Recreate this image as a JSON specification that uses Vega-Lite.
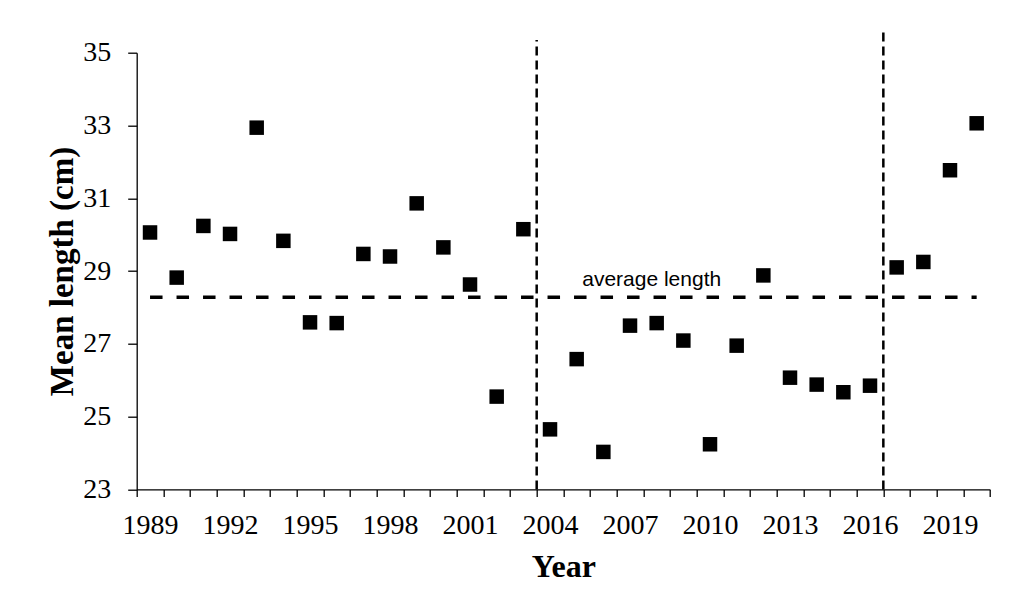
{
  "$schema": "https://vega.github.io/schema/vega-lite/v6.json",
  "autosize": "none",
  "width": 853.3,
  "height": 436.7,
  "padding": {"left": 136.7, "top": 52.7, "right": 40, "bottom": 118.6},
  "background": "white",
  "config": {
    "view": {"stroke": null},
    "axis": {
      "domainColor": "black",
      "tickColor": "black",
      "labelColor": "black",
      "titleColor": "black",
      "labelFont": "Liberation Serif",
      "titleFont": "Liberation Serif",
      "grid": false
    }
  },
  "layer": [
    {
      "data": {"values": [
        {"year": 1989, "length": 30.06},
        {"year": 1990, "length": 28.82},
        {"year": 1991, "length": 30.24},
        {"year": 1992, "length": 30.02},
        {"year": 1993, "length": 32.94},
        {"year": 1994, "length": 29.83},
        {"year": 1995, "length": 27.59},
        {"year": 1996, "length": 27.57},
        {"year": 1997, "length": 29.47},
        {"year": 1998, "length": 29.40},
        {"year": 1999, "length": 30.86},
        {"year": 2000, "length": 29.65},
        {"year": 2001, "length": 28.63},
        {"year": 2002, "length": 25.55},
        {"year": 2003, "length": 30.15},
        {"year": 2004, "length": 24.65},
        {"year": 2005, "length": 26.58},
        {"year": 2006, "length": 24.03},
        {"year": 2007, "length": 27.50},
        {"year": 2008, "length": 27.57},
        {"year": 2009, "length": 27.09},
        {"year": 2010, "length": 24.24},
        {"year": 2011, "length": 26.95},
        {"year": 2012, "length": 28.88},
        {"year": 2013, "length": 26.07},
        {"year": 2014, "length": 25.88},
        {"year": 2015, "length": 25.67},
        {"year": 2016, "length": 25.85},
        {"year": 2017, "length": 29.10},
        {"year": 2018, "length": 29.25},
        {"year": 2019, "length": 31.77},
        {"year": 2020, "length": 33.06}
      ]},
      "mark": {"type": "square", "filled": true, "color": "black", "opacity": 1, "size": 210},
      "encoding": {
        "x": {
          "field": "year", "type": "ordinal",
          "scale": {"paddingInner": 0, "paddingOuter": 0},
          "axis": {
            "title": "Year",
            "titleFontSize": 32,
            "titleFontWeight": "bold",
            "titleBaseline": "alphabetic",
            "titleY": 87.4,
            "labelFontSize": 28,
            "labelAngle": 0,
            "labelOverlap": false,
            "labelExpr": "(datum.value - 1989) % 3 === 0 ? datum.label : ''",
            "tickBand": "extent",
            "tickSize": 7,
            "labelPadding": 15,
            "domainWidth": 1.3,
            "tickWidth": 1.3
          }
        },
        "y": {
          "field": "length", "type": "quantitative",
          "scale": {"domain": [23, 35], "zero": false, "nice": false},
          "axis": {
            "title": "Mean length (cm)",
            "values": [23, 25, 27, 29, 31, 33, 35],
            "labelFontSize": 28,
            "titleFontSize": 33,
            "titleFontWeight": "bold",
            "titleAngle": -90,
            "titleBaseline": "alphabetic",
            "titleAlign": "center",
            "titleX": -64,
            "titleY": 218.3,
            "tickSize": 9,
            "labelPadding": 17,
            "domainWidth": 1.3,
            "tickWidth": 1.3
          }
        }
      }
    },
    {
      "data": {"values": [
        {"year": 1989, "avg": 28.28},
        {"year": 2020, "avg": 28.28}
      ]},
      "mark": {"type": "line", "color": "black", "strokeWidth": 3.6, "strokeDash": [12.5, 14]},
      "encoding": {
        "x": {"field": "year", "type": "ordinal"},
        "y": {"field": "avg", "type": "quantitative"}
      }
    },
    {
      "data": {"values": [
        {"year": 2004, "bottom": 23, "top": 35.35},
        {"year": 2017, "bottom": 23, "top": 35.57}
      ]},
      "mark": {"type": "rule", "color": "black", "strokeWidth": 2.5, "strokeDash": [9, 5]},
      "encoding": {
        "x": {"field": "year", "type": "ordinal", "bandPosition": 0},
        "y": {"field": "bottom", "type": "quantitative"},
        "y2": {"field": "top"}
      }
    },
    {
      "data": {"values": [
        {"year": 2008, "pos": 28.59, "label": "average length"}
      ]},
      "mark": {"type": "text", "font": "Liberation Sans", "fontSize": 21, "color": "black", "baseline": "alphabetic", "align": "center", "dx": -5},
      "encoding": {
        "x": {"field": "year", "type": "ordinal"},
        "y": {"field": "pos", "type": "quantitative"},
        "text": {"field": "label"}
      }
    }
  ]
}
